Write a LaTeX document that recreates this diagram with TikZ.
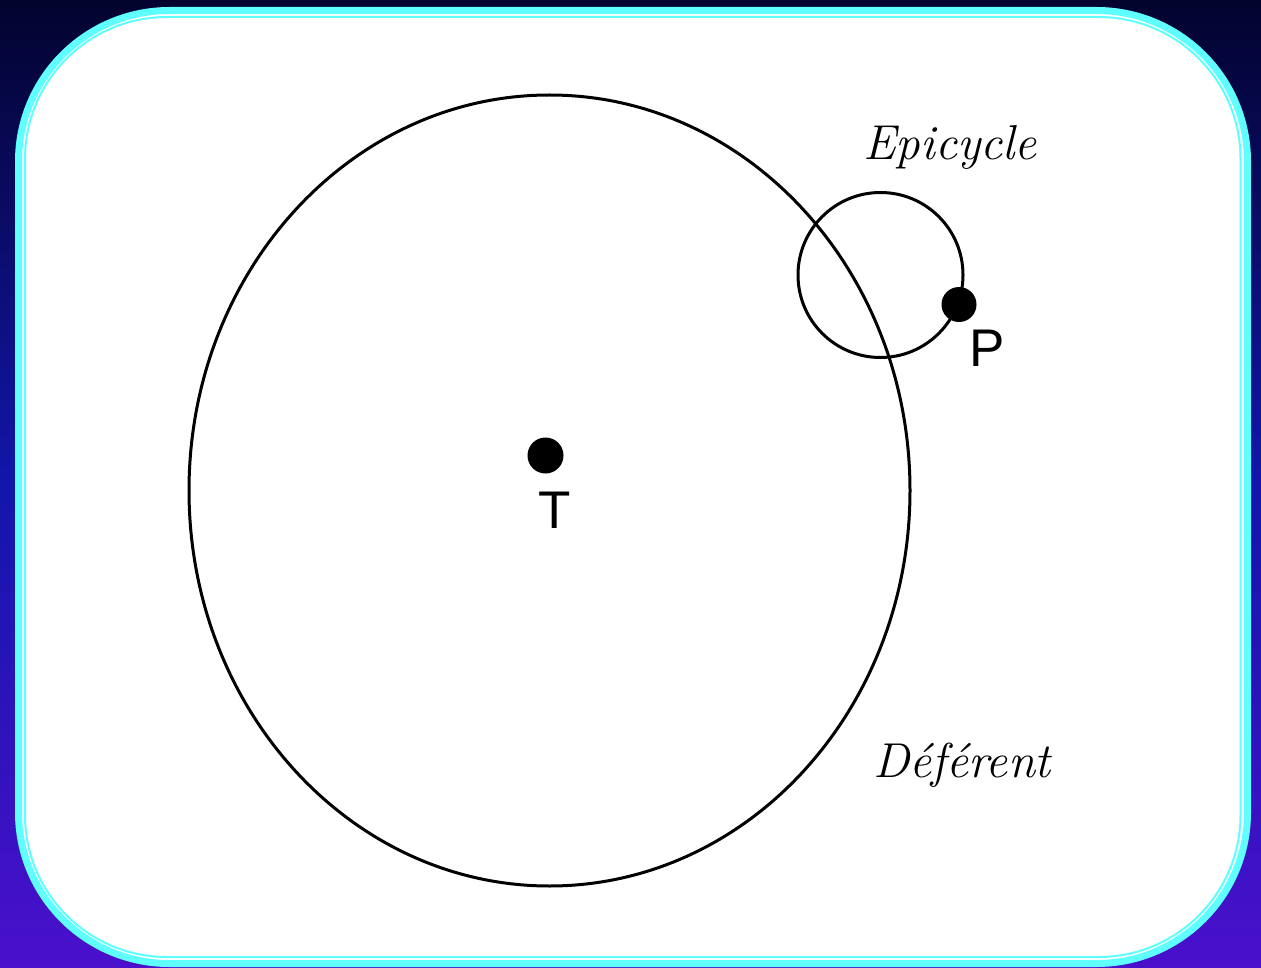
\documentclass[tikz,border=0pt]{standalone}
\usepackage{fontspec}
\newfontfamily\labelsans{Liberation Sans}
\definecolor{bgtop}{RGB}{3,3,46}
\definecolor{bgmid}{RGB}{18,22,170}
\definecolor{bgbot}{RGB}{74,16,204}
\definecolor{rimcyan}{RGB}{95,255,255}
\tikzset{
  orbit/.style={draw=black, line width=3pt},
  body/.style={circle, fill=black, inner sep=0pt},
  ptlabel/.style={font=\labelsans\fontsize{53}{53}\selectfont, inner sep=0pt},
  namelabel/.style={font=\itshape\fontsize{49}{49}\selectfont, inner sep=0pt}
}
\begin{document}
\begin{tikzpicture}[x=1pt,y=-1pt]
\useasboundingbox (0,0) rectangle (1261,968);
% background gradient
\shade[top color=bgtop, bottom color=bgbot, middle color=bgmid, shading angle=0] (0,0) rectangle (1261,968);
% card
\draw[rimcyan, line width=7pt, fill=white, rounded corners=151pt] (18.5,10.5) rectangle (1247.5,963.5);
\draw[rimcyan, line width=2pt, rounded corners=142pt] (25,17) rectangle (1240.5,957);
% deferent
\draw[orbit] (549.5,490.5) ellipse [x radius=360.5, y radius=395.5];
% epicycle
\draw[orbit] (880.5,275) circle [radius=82.5];
% bodies
\node[body, minimum size=36pt] (T) at (545.5,455.5) {};
\node[body, minimum size=35pt] (P) at (959,304.5) {};
\node[ptlabel] (Tl) at (555,510) {T};
\node[ptlabel] (Pl) at (987,348) {P};
\node[namelabel] (ep) at (950,147) {Epicycle};
\node[namelabel] (de) at (962,765) {Déférent};
\end{tikzpicture}
\end{document}
